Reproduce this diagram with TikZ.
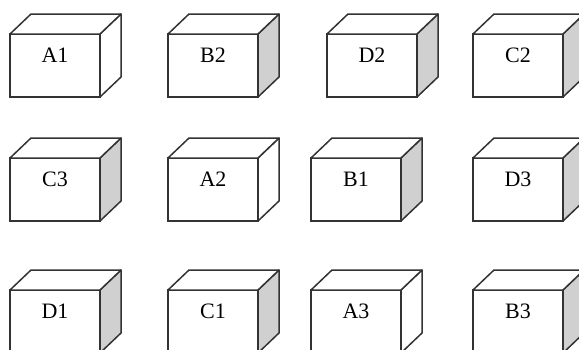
\documentclass[tikz,border=0pt]{standalone}
\usepackage{fontspec}
\setmainfont{Liberation Serif}
\definecolor{edge}{HTML}{333333}
\definecolor{shade}{HTML}{D0D0D0}
\newcommand\mycube[4]{%
  \node[front,anchor=north west,label={[lab,anchor=center,label distance=-21.5pt]north:#3}] (#3) at (#1,#2) {};
  \draw[edgeline,fill=#4] (#3.north east) -- ++(21,-20) -- ++(0,63) -- (#3.south east) -- cycle;
  \draw[edgeline,fill=white] (#3.north west) -- ++(21,-20) -- ++(90,0) -- (#3.north east) -- cycle;
}
\begin{document}
\begin{tikzpicture}[x=1pt,y=-1pt,
  front/.style={draw=edge,line width=1.5pt,fill=white,rectangle,minimum width=90pt,minimum height=63pt,inner sep=0pt,outer sep=0pt},
  edgeline/.style={draw=edge,line width=1.5pt,line join=round},
  lab/.style={font=\fontsize{22}{24}\selectfont,text=black,inner sep=0pt}]
\useasboundingbox (0,0) rectangle (579,349);
\clip (0,0) rectangle (579,349);
\mycube{10}{34}{A1}{white}
\mycube{168}{34}{B2}{shade}
\mycube{327}{34}{D2}{shade}
\mycube{473}{34}{C2}{shade}
\mycube{10}{158}{C3}{shade}
\mycube{168}{158}{A2}{white}
\mycube{311}{158}{B1}{shade}
\mycube{473}{158}{D3}{shade}
\mycube{10}{290}{D1}{shade}
\mycube{168}{290}{C1}{shade}
\mycube{311}{290}{A3}{white}
\mycube{473}{290}{B3}{shade}
\end{tikzpicture}
\end{document}
